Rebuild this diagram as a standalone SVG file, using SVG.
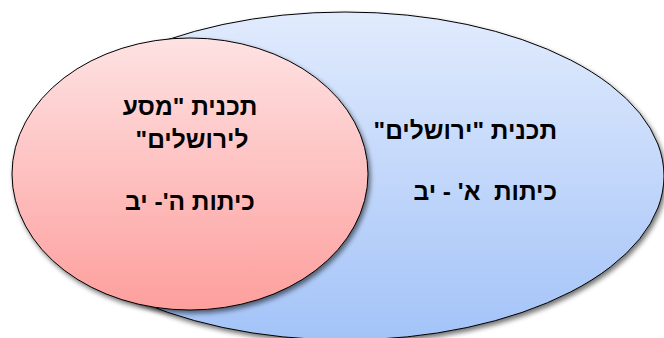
<svg xmlns="http://www.w3.org/2000/svg" width="664" height="338" viewBox="0 0 664 338">
  <defs>
    <linearGradient id="gBlue" x1="0" y1="0" x2="0" y2="1">
      <stop offset="0" stop-color="#e1ebfd"/>
      <stop offset="1" stop-color="#a3c3f8"/>
    </linearGradient>
    <linearGradient id="gRed" x1="0" y1="0" x2="0" y2="1">
      <stop offset="0" stop-color="#fee2e3"/>
      <stop offset="1" stop-color="#fd9f9d"/>
    </linearGradient>
    <filter id="shadow" x="-10%" y="-10%" width="125%" height="130%">
      <feGaussianBlur in="SourceAlpha" stdDeviation="2.5"/>
      <feOffset dx="2" dy="3" result="b"/>
      <feComponentTransfer><feFuncA type="linear" slope="0.55"/></feComponentTransfer>
      <feMerge><feMergeNode/><feMergeNode in="SourceGraphic"/></feMerge>
    </filter>
  </defs>
  <style>
    .shape { stroke: #000; stroke-width: 1; filter: url(#shadow); }
    .lbl { font-family: "Liberation Sans", "DejaVu Sans", sans-serif; font-weight: bold; font-size: 24.5px; fill: #000; direction: rtl; unicode-bidi: embed; white-space: pre; }
  </style>
  <rect width="664" height="338" fill="#ffffff"/>
  <g id="outer">
    <ellipse class="shape" cx="345" cy="176" rx="319" ry="164" fill="url(#gBlue)"/>
    <text class="lbl" x="557" y="139" text-anchor="start">תכנית "ירושלים"</text>
    <text class="lbl" x="557" y="200" text-anchor="start" xml:space="preserve">כיתות  א' - יב</text>
  </g>
  <g id="inner">
    <ellipse class="shape" cx="190" cy="174" rx="178" ry="136" fill="url(#gRed)"/>
    <text class="lbl" x="190" y="115" text-anchor="middle">תכנית "מסע</text>
    <text class="lbl" x="192" y="148" text-anchor="middle">לירושלים"</text>
    <text class="lbl" x="190" y="210" text-anchor="middle">כיתות ה'- יב</text>
  </g>
  <g id="connectors"/>
</svg>
